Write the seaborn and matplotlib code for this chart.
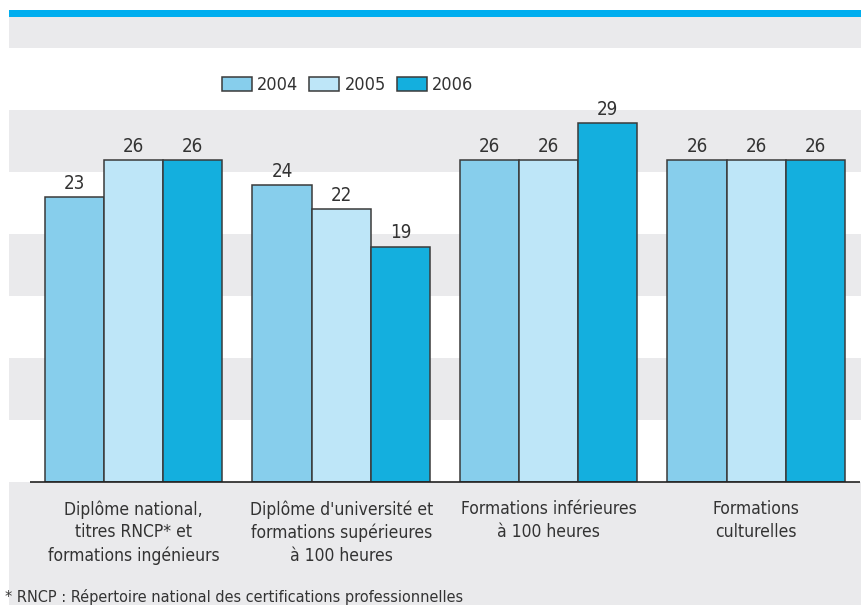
import numpy as np
import pandas as pd
import seaborn as sns
import matplotlib.pyplot as plt
from matplotlib.patches import Rectangle

# données
categories = [
    "Diplôme national,\ntitres RNCP* et\nformations ingénieurs",
    "Diplôme d'université et\nformations supérieures\nà 100 heures",
    "Formations inférieures\nà 100 heures",
    "Formations\nculturelles",
]
years = ["2004", "2005", "2006"]
v2004 = [23, 24, 26, 26]
v2005 = [26, 22, 26, 26]
v2006 = [26, 19, 29, 26]
footnote = "* RNCP : Répertoire national des certifications professionnelles"

colors = ["#87CEEC", "#BEE6F8", "#14AFDE"]
grey = "#EAEAEC"
txt = "#333333"

df = pd.DataFrame({
    "cat": categories * 3,
    "year": [y for y in years for _ in categories],
    "val": v2004 + v2005 + v2006,
})

sns.set_style("white")
plt.rcParams["font.family"] = ["DejaVu Sans"]
plt.rcParams["font.stretch"] = "condensed"

W, H = 862, 605
fig = plt.figure(figsize=(W / 100, H / 100), dpi=100)
ax = fig.add_axes([9 / W, (H - 482) / H, (W - 9) / W, (482 - 10) / H])

# bandes de fond
for lo in [5, 15, 25, 35]:
    ax.axhspan(lo, lo + 5, color=grey, lw=0, zorder=0)
ax.axhspan(37.5, 40, color="#00AEEF", lw=0, zorder=0)

sns.barplot(data=df, x="cat", y="val", hue="year", order=categories,
            hue_order=years, palette=colors, width=0.855,
            edgecolor="#3a3a3a", linewidth=1.1, saturation=1, ax=ax, zorder=2)

for c in ax.containers:
    ax.bar_label(c, padding=3, fontsize=13.5, color=txt)

ax.set_xlim(-0.601, 3.51)
ax.set_ylim(0, 38.1)
for s in ax.spines.values():
    s.set_visible(False)
ax.set_yticks([])
ax.set_xlabel("")
ax.set_ylabel("")
ax.hlines(0, -0.5, 3.5, color="#222222", lw=1.2, zorder=3, clip_on=False)
ax.set_xticks(range(len(categories)))
ax.set_xticklabels(categories, fontsize=12.5, color=txt, linespacing=1.35)
ax.tick_params(axis="x", which="major", length=0, pad=13)
ax.set_xticks(np.arange(-0.5, 4, 1), minor=True)
ax.tick_params(axis="x", which="minor", length=7, width=1, color="#444444",
               direction="out")

# bande grise sous l'axe
fig.add_artist(Rectangle((9 / W, 0), (W - 9) / W, (H - 482) / H,
                         transform=fig.transFigure, color=grey, lw=0,
                         zorder=-1))

ax.legend(loc="center left", bbox_to_anchor=(222 / W, 1 - 85 / H),
          bbox_transform=fig.transFigure, ncol=3, frameon=False,
          fontsize=13, handlelength=1.67, handleheight=0.83,
          handletextpad=0.28, columnspacing=0.6, borderpad=0,
          borderaxespad=0, labelcolor=txt)

fig.text(5 / W, 1 - 597 / H, footnote, fontsize=11.6, color=txt,
         va="center", ha="left", fontweight="medium")

fig.savefig("out.png", dpi=100)
